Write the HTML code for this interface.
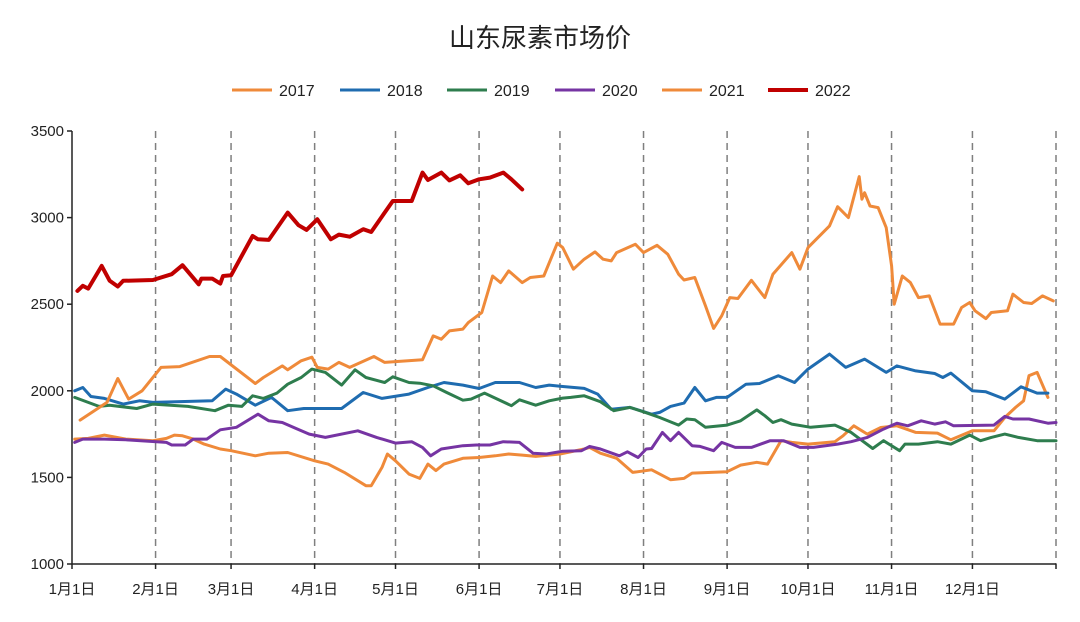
<!DOCTYPE html>
<html><head><meta charset="utf-8"><style>
html,body{margin:0;padding:0;background:#fff;}
body{width:1080px;height:617px;overflow:hidden;font-family:"Liberation Sans","Noto Sans CJK SC",sans-serif;}
</style></head><body>
<svg id="chart" width="1080" height="617" xmlns="http://www.w3.org/2000/svg" style="font-family:'Liberation Sans','Noto Sans CJK SC',sans-serif">
<text x="540" y="47" text-anchor="middle" font-size="26" fill="#222">山东尿素市场价</text>
<g id="legend"></g>
<g id="grid"></g>
<g id="axes"></g>
<g id="series"></g>
</svg>
<script>
const yTicks=[1000,1500,2000,2500,3000,3500];
const monthLabels=["1月1日","2月1日","3月1日","4月1日","5月1日","6月1日","7月1日","8月1日","9月1日","10月1日","11月1日","12月1日"];
const monthDays=[0,31,59,90,120,151,181,212,243,273,304,334];
const seriesNames=["2017","2018","2019","2020","2021","2022"];
const d2017=[1,6,12,20,30,35,38,41,45,49,55,59,68,73,80,90,95,101,109,111,115,117,120,125,129,132,135,138,145,151,157,162,167,172,181,190,192,196,202,208,215,222,227,230,243,248,254,258,263,267,273,283,286,290,295,300,306,313,321,326,334,342,346,350,353,355,358,362];
const v2017=[1721,1725,1744,1721,1712,1725,1744,1740,1721,1692,1664,1654,1625,1640,1644,1596,1577,1529,1452,1452,1558,1635,1596,1519,1494,1577,1539,1577,1610,1615,1625,1635,1629,1621,1635,1664,1673,1640,1610,1529,1544,1487,1494,1525,1533,1571,1587,1577,1712,1702,1692,1706,1740,1798,1750,1788,1798,1760,1756,1717,1769,1769,1846,1904,1942,2087,2106,1962];
const d2018=[1,4,7,12,19,25,30,52,57,61,68,74,80,86,100,108,115,125,132,138,145,151,157,166,172,177,182,190,195,200,207,215,218,222,227,231,235,239,243,250,255,262,268,273,281,287,294,302,306,313,320,323,326,334,339,346,352,358,362];
const v2018=[2000,2019,1967,1956,1923,1942,1933,1942,2010,1981,1917,1962,1885,1898,1898,1990,1956,1981,2019,2048,2033,2013,2048,2048,2019,2033,2025,2014,1981,1894,1904,1865,1875,1910,1929,2019,1942,1962,1962,2038,2042,2087,2048,2125,2212,2135,2183,2106,2144,2115,2100,2077,2102,2000,1994,1952,2023,1987,1987];
const d2019=[1,6,10,14,24,30,43,53,58,63,67,71,76,80,85,89,94,100,105,109,116,119,125,129,134,139,145,148,153,163,166,172,177,182,185,190,196,201,207,212,218,225,228,231,235,243,248,254,257,260,263,267,274,283,289,297,301,307,309,314,321,326,333,337,341,346,351,358,365];
const v2019=[1962,1933,1910,1917,1898,1923,1910,1885,1917,1910,1971,1956,1987,2038,2077,2125,2106,2033,2121,2077,2048,2081,2048,2044,2029,1990,1946,1952,1987,1914,1948,1917,1942,1958,1962,1971,1937,1885,1904,1879,1846,1802,1837,1833,1789,1802,1827,1890,1856,1817,1833,1808,1789,1802,1760,1667,1712,1654,1692,1692,1706,1692,1744,1712,1731,1750,1731,1712,1712];
const d2020=[1,4,12,20,35,37,42,45,50,55,61,69,73,78,83,88,94,106,113,120,126,130,133,137,145,150,155,160,166,171,176,182,189,192,196,203,206,210,213,215,219,222,225,230,233,238,241,246,252,259,264,270,275,284,289,295,301,306,310,315,320,324,327,342,346,349,355,362,365];
const v2020=[1702,1721,1721,1717,1702,1687,1687,1721,1721,1775,1789,1865,1827,1817,1783,1750,1731,1769,1731,1698,1706,1673,1625,1664,1683,1687,1687,1706,1702,1640,1635,1651,1654,1679,1664,1625,1648,1615,1664,1667,1760,1712,1760,1683,1679,1654,1702,1673,1673,1712,1712,1673,1673,1692,1706,1731,1779,1813,1798,1827,1808,1821,1798,1802,1852,1837,1837,1813,1817];
const d2021=[3,13,17,21,26,33,40,51,55,68,71,78,80,85,89,91,95,99,103,112,116,130,134,137,140,145,147,152,156,159,162,167,170,175,180,182,186,190,194,197,200,202,209,212,217,221,225,227,231,235,238,241,244,247,252,257,260,267,270,273,281,284,288,292,293,294,296,299,302,304,305,308,311,314,318,322,327,330,333,335,339,341,347,349,353,356,360,364];
const v2021=[1831,1933,2071,1952,2000,2135,2140,2198,2198,2042,2077,2144,2121,2173,2194,2135,2125,2164,2135,2198,2164,2179,2317,2298,2346,2356,2394,2452,2663,2625,2692,2625,2654,2663,2852,2827,2702,2760,2802,2760,2750,2798,2846,2798,2840,2788,2673,2640,2654,2490,2360,2433,2538,2533,2638,2538,2673,2798,2702,2827,2952,3063,3000,3237,3106,3144,3067,3058,2942,2721,2500,2663,2625,2538,2548,2385,2385,2481,2510,2462,2417,2452,2462,2558,2510,2504,2548,2519];
const d2022=[2,4,6,11,14,17,19,30,37,41,47,48,52,55,56,59,67,69,73,80,84,87,91,96,99,103,108,111,119,126,130,132,137,140,144,147,151,155,160,163,167];
const v2022=[2577,2606,2590,2721,2635,2602,2635,2640,2673,2725,2615,2648,2648,2619,2663,2667,2894,2875,2871,3029,2956,2929,2990,2875,2902,2890,2933,2917,3096,3096,3260,3217,3260,3215,3244,3198,3221,3231,3260,3221,3163];
const seriesDays=[d2017,d2018,d2019,d2020,d2021,d2022];
const seriesVals=[v2017,v2018,v2019,v2020,v2021,v2022];
const colors=["#EF8A3A","#1F6CB0","#2E7D4E","#7634A3","#EF8A3A","#C00000"];

const NS="http://www.w3.org/2000/svg";
const X0=72,X1=1056,Y0=564,Y1=131;
function xs(d){return X0+d*(X1-X0)/365;}
function ys(v){return Y0-(v-1000)*(Y0-Y1)/2500;}
function mk(tag,attrs,parent){const e=document.createElementNS(NS,tag);for(const k in attrs)e.setAttribute(k,attrs[k]);parent.appendChild(e);return e;}

const grid=document.getElementById('grid'),axes=document.getElementById('axes'),ser=document.getElementById('series'),leg=document.getElementById('legend');
const gridDays=monthDays.slice(1).concat([365]);
gridDays.forEach(d=>{
  const l=mk('line',{x1:xs(d),x2:xs(d),y1:Y1,y2:Y0,stroke:'#7f7f7f','stroke-width':1.5,'stroke-dasharray':'7,5'},grid);
  
  
});
const ya=mk('line',{x1:X0,x2:X0,y1:Y1,y2:Y0,stroke:'#222','stroke-width':1.5},axes);


const xa=mk('line',{x1:X0,x2:X1,y1:Y0,y2:Y0,stroke:'#222','stroke-width':1.5},axes);


yTicks.forEach(v=>{
  mk('line',{x1:X0-5,x2:X0,y1:ys(v),y2:ys(v),stroke:'#222','stroke-width':1.5},axes);
  const t=mk('text',{x:X0-8,y:ys(v)+5,'text-anchor':'end','font-size':15,fill:'#222'},axes);
  t.textContent=v;
  
  
});
monthDays.concat([365]).forEach(d=>{mk('line',{x1:xs(d),x2:xs(d),y1:Y0,y2:Y0+5,stroke:'#222','stroke-width':1.5},axes);});
monthDays.forEach((d,i)=>{
  const t=mk('text',{x:xs(d),y:Y0+30,'text-anchor':'middle','font-size':15,fill:'#222'},axes);
  t.textContent=monthLabels[i];
  
  
});
seriesNames.forEach((n,i)=>{
  const pts=seriesDays[i].map((d,j)=>xs(d).toFixed(1)+','+ys(seriesVals[i][j]).toFixed(1)).join(' ');
  const p=mk('polyline',{points:pts,fill:'none',stroke:colors[i],'stroke-width':i==5?4:3,'stroke-linejoin':'round','stroke-linecap':'round'},ser);
  
  
});
const legX=[232,340,447,555,662,768];
seriesNames.forEach((n,i)=>{
  const g=mk('g',{},leg);
  
  
  mk('line',{x1:legX[i],x2:legX[i]+40,y1:90,y2:90,stroke:colors[i],'stroke-width':i==5?4:3},g);
  const t=mk('text',{x:legX[i]+47,y:96,'font-size':16,fill:'#222'},g);
  t.textContent=n;
});
</script>
</body></html>
